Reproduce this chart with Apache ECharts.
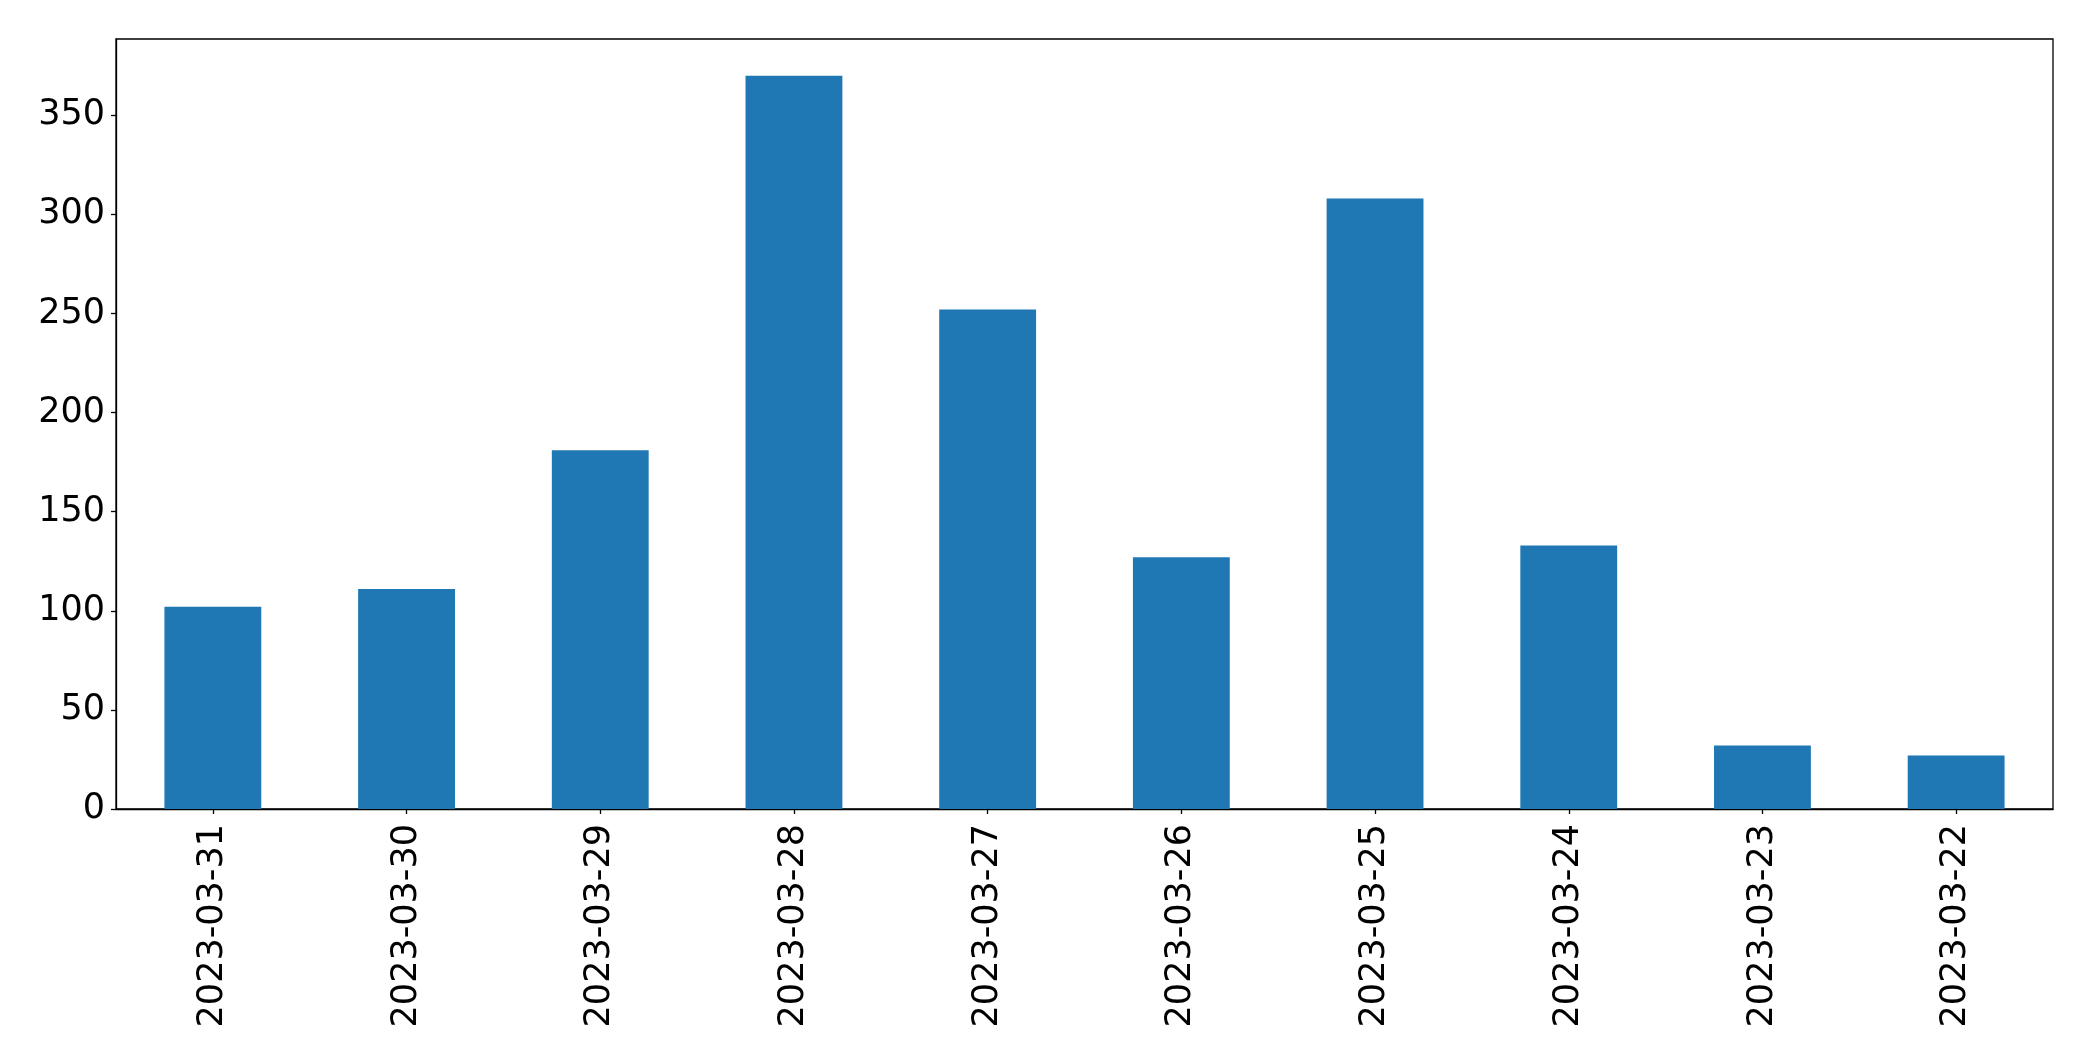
<!DOCTYPE html>
<html>
<head>
<meta charset="utf-8">
<script src="https://cdn.jsdelivr.net/npm/echarts@6/dist/echarts.min.js"></script>
<style>
html,body{margin:0;padding:0;background:#fff;}
#chart{width:2093px;height:1061px;}
</style>
</head>
<body>
<div id="chart"></div>
<script>
const categories = ['2023-03-31','2023-03-30','2023-03-29','2023-03-28','2023-03-27','2023-03-26','2023-03-25','2023-03-24','2023-03-23','2023-03-22'];
const values = [102, 111, 181, 370, 252, 127, 308, 133, 32, 27];
const yTicks = [0, 50, 100, 150, 200, 250, 300, 350];

const chart = echarts.init(document.getElementById('chart'), null, {renderer: 'canvas'});
const font = 'DejaVu Sans';
chart.setOption({
  animation: false,
  backgroundColor: '#ffffff',
  grid: {left: 116, top: 39, right: 40, bottom: 252, show: true, borderColor: '#000', borderWidth: 1.3, backgroundColor: 'transparent'},
  xAxis: {
    type: 'category',
    data: categories,
    boundaryGap: true,
    axisLine: {show: true, lineStyle: {color: '#000', width: 1.3}},
    axisTick: {show: true, alignWithLabel: true, length: 5, lineStyle: {color: '#000', width: 1.3}},
    axisLabel: {rotate: 90, margin: 15, color: '#000', fontFamily: font, fontSize: 35, interval: 0},
    splitLine: {show: false}
  },
  yAxis: {
    type: 'value',
    min: 0,
    max: 388.5,
    interval: 50,
    axisLine: {show: true, lineStyle: {color: '#000', width: 1.3}},
    axisTick: {show: true, length: 5, customValues: yTicks, lineStyle: {color: '#000', width: 1.3}},
    axisLabel: {margin: 11, color: '#000', fontFamily: font, fontSize: 35, customValues: yTicks},
    splitLine: {show: false}
  },
  series: [{
    type: 'bar',
    data: values,
    barWidth: '50%',
    itemStyle: {color: '#1f77b4'}
  }]
});
</script>
</body>
</html>
